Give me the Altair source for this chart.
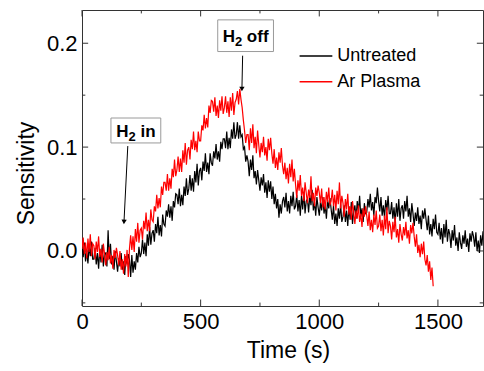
import altair as alt
import pandas as pd

# ---------------- data ----------------
time_untreated = list(range(0, 1700, 5))
sens_untreated = [
    0.004, -0.006, 0.008, -0.010, 0.000, -0.012, 0.005, -0.005, 0.009, -0.008,
    -0.008, 0.003, -0.013, -0.002, -0.017, 0.002, -0.011, 0.006, -0.015, -0.003,
    -0.002, -0.015, 0.020, -0.008, 0.007, -0.013, -0.005, -0.018, 0.000, -0.010,
    -0.020, -0.007, -0.015, -0.002, -0.018, -0.010, -0.023, -0.005, -0.013, -0.003,
    -0.008, -0.025, -0.004, -0.021, -0.010, -0.018, -0.002, -0.011, 0.004, -0.006,
    -0.002, 0.011, -0.003, 0.008, -0.005, 0.016, 0.005, 0.023, 0.006, 0.017,
    0.020, 0.009, 0.026, 0.017, 0.033, 0.015, 0.025, 0.014, 0.035, 0.026,
    0.024, 0.039, 0.033, 0.045, 0.032, 0.043, 0.029, 0.048, 0.042, 0.055,
    0.054, 0.045, 0.060, 0.043, 0.054, 0.044, 0.062, 0.053, 0.070, 0.054,
    0.060, 0.073, 0.058, 0.070, 0.057, 0.077, 0.066, 0.084, 0.063, 0.077,
    0.080, 0.068, 0.086, 0.077, 0.094, 0.076, 0.085, 0.074, 0.094, 0.085,
    0.082, 0.096, 0.089, 0.103, 0.088, 0.096, 0.086, 0.105, 0.098, 0.108,
    0.108, 0.099, 0.115, 0.098, 0.109, 0.099, 0.117, 0.108, 0.124, 0.108,
    0.112, 0.124, 0.108, 0.121, 0.110, 0.112, 0.098, 0.100, 0.086, 0.092,
    0.086, 0.072, 0.088, 0.078, 0.092, 0.070, 0.077, 0.064, 0.078, 0.068,
    0.058, 0.071, 0.063, 0.074, 0.056, 0.066, 0.051, 0.068, 0.057, 0.067,
    0.050, 0.062, 0.045, 0.055, 0.041, 0.050, 0.032, 0.045, 0.036, 0.048,
    0.052, 0.042, 0.056, 0.038, 0.048, 0.036, 0.053, 0.043, 0.057, 0.040,
    0.043, 0.054, 0.038, 0.049, 0.034, 0.053, 0.040, 0.057, 0.036, 0.048,
    0.050, 0.037, 0.054, 0.044, 0.059, 0.039, 0.047, 0.034, 0.052, 0.042,
    0.034, 0.047, 0.039, 0.052, 0.036, 0.044, 0.031, 0.049, 0.041, 0.051,
    0.040, 0.030, 0.044, 0.026, 0.036, 0.024, 0.041, 0.031, 0.045, 0.028,
    0.033, 0.044, 0.028, 0.039, 0.024, 0.043, 0.030, 0.047, 0.026, 0.038,
    0.044, 0.031, 0.048, 0.038, 0.053, 0.033, 0.041, 0.028, 0.046, 0.036,
    0.037, 0.050, 0.042, 0.055, 0.039, 0.047, 0.034, 0.052, 0.046, 0.061,
    0.048, 0.038, 0.052, 0.034, 0.044, 0.032, 0.049, 0.039, 0.053, 0.036,
    0.036, 0.047, 0.031, 0.042, 0.027, 0.046, 0.033, 0.050, 0.029, 0.041,
    0.044, 0.031, 0.048, 0.038, 0.053, 0.033, 0.041, 0.028, 0.046, 0.036,
    0.024, 0.037, 0.029, 0.042, 0.026, 0.034, 0.021, 0.039, 0.031, 0.041,
    0.030, 0.020, 0.034, 0.016, 0.026, 0.014, 0.031, 0.021, 0.035, 0.018,
    0.016, 0.027, 0.011, 0.022, 0.007, 0.026, 0.013, 0.030, 0.009, 0.021,
    0.016, 0.003, 0.020, 0.010, 0.025, 0.005, 0.013, 0.000, 0.018, 0.008,
    0.002, 0.015, 0.007, 0.020, 0.004, 0.012, -0.001, 0.017, 0.009, 0.019,
    0.014, 0.004, 0.018, 0.000, 0.010, -0.002, 0.015, 0.005, 0.019, 0.002,
]

time_ar = list(range(0, 1485, 5))
sens_ar = [
    0.002, 0.013, -0.003, 0.008, -0.007, 0.012, -0.001, 0.016, -0.005, 0.007,
    0.005, -0.008, 0.009, -0.001, 0.014, -0.006, 0.002, -0.011, 0.007, -0.003,
    -0.014, -0.001, -0.009, 0.004, -0.012, -0.004, -0.017, 0.001, -0.007, 0.003,
    -0.004, -0.014, 0.000, -0.018, -0.008, -0.022, -0.003, -0.015, 0.001, -0.025,
    0.002, 0.015, 0.001, 0.014, -0.001, 0.021, 0.009, 0.027, 0.008, 0.020,
    0.022, 0.011, 0.029, 0.021, 0.037, 0.019, 0.030, 0.019, 0.040, 0.030,
    0.028, 0.043, 0.038, 0.054, 0.041, 0.051, 0.042, 0.062, 0.054, 0.066,
    0.066, 0.058, 0.074, 0.058, 0.070, 0.060, 0.079, 0.071, 0.088, 0.072,
    0.078, 0.091, 0.076, 0.089, 0.076, 0.097, 0.085, 0.104, 0.083, 0.097,
    0.100, 0.088, 0.107, 0.098, 0.115, 0.097, 0.106, 0.095, 0.115, 0.106,
    0.106, 0.121, 0.116, 0.131, 0.118, 0.128, 0.119, 0.140, 0.133, 0.145,
    0.144, 0.134, 0.148, 0.130, 0.140, 0.128, 0.145, 0.135, 0.149, 0.132,
    0.138, 0.149, 0.133, 0.144, 0.129, 0.148, 0.135, 0.152, 0.131, 0.143,
    0.146, 0.154, 0.141, 0.156, 0.146, 0.138, 0.126, 0.116, 0.104, 0.112,
    0.112, 0.097, 0.118, 0.104, 0.122, 0.099, 0.110, 0.094, 0.116, 0.102,
    0.090, 0.104, 0.095, 0.110, 0.092, 0.100, 0.087, 0.108, 0.097, 0.109,
    0.094, 0.084, 0.098, 0.080, 0.090, 0.078, 0.095, 0.085, 0.099, 0.082,
    0.074, 0.085, 0.069, 0.080, 0.065, 0.084, 0.071, 0.088, 0.067, 0.079,
    0.064, 0.051, 0.068, 0.058, 0.073, 0.053, 0.061, 0.048, 0.066, 0.056,
    0.046, 0.059, 0.051, 0.072, 0.048, 0.056, 0.043, 0.061, 0.053, 0.063,
    0.056, 0.046, 0.060, 0.042, 0.052, 0.040, 0.057, 0.047, 0.061, 0.044,
    0.048, 0.059, 0.043, 0.054, 0.039, 0.058, 0.045, 0.066, 0.041, 0.053,
    0.046, 0.033, 0.050, 0.040, 0.055, 0.035, 0.043, 0.030, 0.048, 0.038,
    0.026, 0.039, 0.031, 0.044, 0.028, 0.036, 0.023, 0.041, 0.033, 0.043,
    0.034, 0.024, 0.038, 0.020, 0.030, 0.018, 0.035, 0.025, 0.039, 0.022,
    0.024, 0.035, 0.019, 0.030, 0.015, 0.034, 0.021, 0.042, 0.017, 0.029,
    0.024, 0.011, 0.028, 0.018, 0.033, 0.013, 0.021, 0.008, 0.026, 0.016,
    0.010, 0.023, 0.015, 0.028, 0.012, 0.020, 0.007, 0.025, 0.017, 0.027,
    0.014, 0.004, 0.016, -0.002, 0.006, -0.006, 0.007, -0.003, 0.009, -0.008,
    -0.014, -0.004, -0.020, -0.010, -0.028, -0.016, -0.034,
]

series_names = ["Untreated", "Ar Plasma"]
series_colors = ["#000000", "#ff0000"]

x_major = [0, 500, 1000, 1500]
x_minor = [250, 750, 1250]
y_major = [0.0, 0.1, 0.2]
y_minor = [-0.05, 0.05, 0.15]

X_DOMAIN = [0, 1690]
Y_DOMAIN = [-0.053, 0.232]

# annotations: label parts, box (t, t2, s, s2), arrow (from t,s to t,s)
ann_main = ["H", "H"]
ann_sub = ["2", "2"]
ann_rest = ["in", "off"]
ann_box_t = [122, 572]
ann_box_t2 = [332, 807]
ann_box_s = [0.104, 0.192]
ann_box_s2 = [0.128, 0.2225]
ann_arrow_t = [193, 677]
ann_arrow_s = [0.101, 0.188]
ann_arrow_t2 = [177, 674]
ann_arrow_s2 = [0.028, 0.156]
ann_arrow_angle = [3, 0]

FONT = "Liberation Sans"

# legend placement (data units of the plot)
LEG_T1, LEG_T2, LEG_TTXT = 917, 1055, 1076
LEG_S = [0.1878, 0.1628]

PLOT_W, PLOT_H = 401, 296
PX_T = PLOT_W / (X_DOMAIN[1] - X_DOMAIN[0])
PX_S = PLOT_H / (Y_DOMAIN[1] - Y_DOMAIN[0])

# ---------------- tables ----------------
df_u = pd.DataFrame({"t": time_untreated, "s": sens_untreated, "series": "Untreated"})
df_a = pd.DataFrame({"t": time_ar, "s": sens_ar, "series": "Ar Plasma"})

XMAJ_LEN = 0.0062   # tick lengths in data units
XMIN_LEN = 0.0033
YMAJ_LEN = 26
YMIN_LEN = 14

tick_rows = []
for v in x_major:
    tick_rows.append({"t": v, "t2": v, "s": Y_DOMAIN[0], "s2": Y_DOMAIN[0] + XMAJ_LEN})
    tick_rows.append({"t": v, "t2": v, "s": Y_DOMAIN[1], "s2": Y_DOMAIN[1] - XMAJ_LEN})
for v in x_minor:
    tick_rows.append({"t": v, "t2": v, "s": Y_DOMAIN[0], "s2": Y_DOMAIN[0] + XMIN_LEN})
    tick_rows.append({"t": v, "t2": v, "s": Y_DOMAIN[1], "s2": Y_DOMAIN[1] - XMIN_LEN})
for v in y_major:
    tick_rows.append({"t": X_DOMAIN[0], "t2": X_DOMAIN[0] + YMAJ_LEN, "s": v, "s2": v})
    tick_rows.append({"t": X_DOMAIN[1], "t2": X_DOMAIN[1] - YMAJ_LEN, "s": v, "s2": v})
for v in y_minor:
    tick_rows.append({"t": X_DOMAIN[0], "t2": X_DOMAIN[0] + YMIN_LEN, "s": v, "s2": v})
    tick_rows.append({"t": X_DOMAIN[1], "t2": X_DOMAIN[1] - YMIN_LEN, "s": v, "s2": v})
df_ticks = pd.DataFrame(tick_rows)

df_box = pd.DataFrame({"t": ann_box_t, "t2": ann_box_t2, "s": ann_box_s, "s2": ann_box_s2})

# label text split in parts: main letter, lowered subscript, rest
MAIN_SIZE, SUB_SIZE = 17, 13
BOLD_W = {"H": 0.722, "2": 0.556, "i": 0.278, "n": 0.611, "o": 0.611, "f": 0.333, " ": 0.278}
text_rows = []
for m, sb, r, t1, t2, s1, s2 in zip(ann_main, ann_sub, ann_rest, ann_box_t, ann_box_t2,
                                    ann_box_s, ann_box_s2):
    w_main = sum(BOLD_W[c] for c in m) * MAIN_SIZE
    w_sub = sum(BOLD_W[c] for c in sb) * SUB_SIZE
    w_sp = BOLD_W[" "] * MAIN_SIZE
    w_rest = sum(BOLD_W[c] for c in r) * MAIN_SIZE
    total = w_main + w_sub + w_sp + w_rest
    tc = (t1 + t2) / 2
    base = (s1 + s2) / 2 - 0.716 * MAIN_SIZE / 2 / PX_S
    x0 = -total / 2
    text_rows.append({"t": tc + x0 / PX_T, "s": base, "txt": m, "fs": MAIN_SIZE})
    text_rows.append({"t": tc + (x0 + w_main) / PX_T, "s": base - 4 / PX_S, "txt": sb, "fs": SUB_SIZE})
    text_rows.append({"t": tc + (x0 + w_main + w_sub + w_sp) / PX_T, "s": base, "txt": r,
                      "fs": MAIN_SIZE})
df_text = pd.DataFrame(text_rows)

df_arrow = pd.DataFrame({
    "t": ann_arrow_t, "s": ann_arrow_s, "t2": ann_arrow_t2, "s2": ann_arrow_s2,
    "angle": ann_arrow_angle,
})
df_leg = pd.DataFrame({
    "series": series_names, "s": LEG_S,
    "t": [LEG_T1] * 2, "t2": [LEG_T2] * 2, "tt": [LEG_TTXT] * 2,
})

# ---------------- encodings ----------------
xs = alt.Scale(domain=X_DOMAIN, nice=False, zero=False)
ys = alt.Scale(domain=Y_DOMAIN, nice=False, zero=False)

x_axis = alt.Axis(
    values=x_major, format="d", title="Time (s)", grid=False, ticks=False, domain=False,
    labelFont=FONT, labelFontSize=22, labelColor="#000", labelPadding=5,
    labelFlush=False,
    titleFont=FONT, titleFontSize=23, titleFontWeight="normal", titleColor="#000",
    titlePadding=7, titleX=206,
)
y_axis = alt.Axis(
    values=y_major, format=".1f", title="Sensitivity", grid=False, ticks=False,
    domain=False, labelFont=FONT, labelFontSize=22, labelColor="#000",
    labelPadding=5, labelFlush=False,
    titleFont=FONT, titleFontSize=23, titleFontWeight="normal", titleColor="#000",
    titlePadding=8, titleY=163,
)


def X(field="t"):
    return alt.X(f"{field}:Q", scale=xs, axis=x_axis)


def Y(field="s"):
    return alt.Y(f"{field}:Q", scale=ys, axis=y_axis)


color = alt.Color(
    "series:N",
    scale=alt.Scale(domain=series_names, range=series_colors),
    legend=None,
)

line_u = alt.Chart(df_u).mark_line(strokeWidth=1.2, clip=True).encode(
    x=X(), y=Y(), color=color, order="t:Q")
line_a = alt.Chart(df_a).mark_line(strokeWidth=1.2, clip=True).encode(
    x=X(), y=Y(), color=color, order="t:Q")

ticks = alt.Chart(df_ticks).mark_rule(color="#333", strokeWidth=1).encode(
    x=X(), x2="t2:Q", y=Y(), y2="s2:Q")

boxes = alt.Chart(df_box).mark_rect(fill="white", stroke="#9a9a9a", strokeWidth=1).encode(
    x=X(), x2="t2:Q", y=Y(), y2="s2:Q")
box_text = alt.Chart(df_text).mark_text(
    font=FONT, fontWeight="bold", color="#000", align="left", baseline="alphabetic"
).encode(x=X(), y=Y(), text="txt:N", size=alt.Size("fs:Q", scale=None))

arrow_line = alt.Chart(df_arrow).mark_rule(color="#000", strokeWidth=1).encode(
    x=X(), y=Y(), x2="t2:Q", y2="s2:Q")
arrow_head = alt.Chart(df_arrow).mark_point(
    shape="triangle-down", filled=True, color="#000", size=28, opacity=1
).encode(x=X("t2"), y=Y("s2"), angle=alt.Angle("angle:Q", scale=None))

leg_lines = alt.Chart(df_leg).mark_rule(strokeWidth=1.5).encode(
    x=X(), x2="t2:Q", y=Y(), color=color)
leg_text = alt.Chart(df_leg).mark_text(
    font=FONT, fontSize=18, color="#000", align="left", baseline="middle"
).encode(x=X("tt"), y=Y(), text="series:N")

chart = alt.layer(
    ticks, line_u, line_a, boxes, box_text, arrow_line, arrow_head, leg_lines, leg_text
).properties(
    width=PLOT_W, height=PLOT_H,
    autosize=alt.AutoSizeParams(type="none"),
    padding={"left": 82, "top": 10, "right": 1, "bottom": 65},
    background="white",
).configure_view(
    stroke="#333", strokeWidth=1
)

chart.save("out.html", embed_options={"renderer": "svg", "actions": False})
